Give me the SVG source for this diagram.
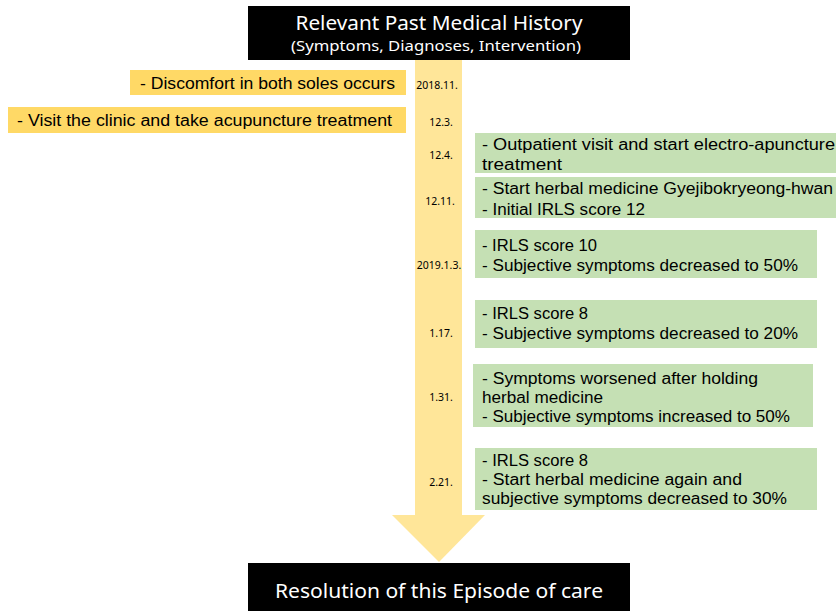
<svg xmlns="http://www.w3.org/2000/svg" width="836" height="611" viewBox="0 0 836 611">
<style>
.hdr{fill:#000}
.hdrt{fill:#fff;font-family:"Noto Sans","Liberation Sans",sans-serif;text-anchor:middle}
.yb{fill:#FFD966}
.gb{fill:#C5E0B4}
.t{font-family:"Liberation Sans","Noto Sans",sans-serif;font-size:16px;fill:#000}
.d{font-family:"Noto Sans","Liberation Sans",sans-serif;font-size:10.5px;fill:#000;text-anchor:middle}
</style>
<rect width="836" height="611" fill="#fff"/>
<g id="connectors">
  <rect x="415" y="60" width="47" height="456" fill="#FFE699"/>
  <polygon points="392,515 485,515 439,562" fill="#FFE699"/>
</g>
<g id="top">
  <rect class="hdr" x="248" y="6" width="382" height="54"/>
  <text class="hdrt" x="439" y="30" font-size="20" textLength="287" lengthAdjust="spacingAndGlyphs">Relevant Past Medical History</text>
  <text class="hdrt" x="436" y="51" font-size="15" textLength="290" lengthAdjust="spacingAndGlyphs">(Symptoms, Diagnoses, Intervention)</text>
</g>
<g id="bottom">
  <rect class="hdr" x="248" y="563" width="382" height="48"/>
  <text class="hdrt" x="439" y="598" font-size="20" textLength="328" lengthAdjust="spacingAndGlyphs">Resolution of this Episode of care</text>
</g>
<g id="dates">
  <text class="d" x="437" y="89">2018.11.</text>
  <text class="d" x="441" y="126">12.3.</text>
  <text class="d" x="441" y="159">12.4.</text>
  <text class="d" x="440" y="205">12.11.</text>
  <text class="d" x="439" y="269">2019.1.3.</text>
  <text class="d" x="441" y="337">1.17.</text>
  <text class="d" x="441" y="401">1.31.</text>
  <text class="d" x="441" y="486">2.21.</text>
</g>
<g id="e1">
  <rect class="yb" x="130" y="70" width="276" height="25"/>
  <text class="t" x="140" y="89" textLength="255" lengthAdjust="spacingAndGlyphs">- Discomfort in both soles occurs</text>
</g>
<g id="e2">
  <rect class="yb" x="8" y="107" width="398" height="26"/>
  <text class="t" x="17" y="126" textLength="375" lengthAdjust="spacingAndGlyphs">- Visit the clinic and take acupuncture treatment</text>
</g>
<g id="e3">
  <rect class="gb" x="475" y="133" width="361" height="40"/>
  <text class="t" x="482" y="150" textLength="353" lengthAdjust="spacingAndGlyphs">- Outpatient visit and start electro-apuncture</text>
  <text class="t" x="482" y="170" textLength="80" lengthAdjust="spacingAndGlyphs">treatment</text>
</g>
<g id="e4">
  <rect class="gb" x="475" y="177" width="361" height="41"/>
  <text class="t" x="482" y="194" textLength="351" lengthAdjust="spacingAndGlyphs">- Start herbal medicine Gyejibokryeong-hwan</text>
  <text class="t" x="482" y="215" textLength="163" lengthAdjust="spacingAndGlyphs">- Initial IRLS score 12</text>
</g>
<g id="e5">
  <rect class="gb" x="475" y="230" width="342" height="48"/>
  <text class="t" x="482" y="251" textLength="115" lengthAdjust="spacingAndGlyphs">- IRLS score 10</text>
  <text class="t" x="482" y="271" textLength="316" lengthAdjust="spacingAndGlyphs">- Subjective symptoms decreased to 50%</text>
</g>
<g id="e6">
  <rect class="gb" x="475" y="300" width="342" height="48"/>
  <text class="t" x="482" y="319" textLength="106" lengthAdjust="spacingAndGlyphs">- IRLS score 8</text>
  <text class="t" x="482" y="339" textLength="316" lengthAdjust="spacingAndGlyphs">- Subjective symptoms decreased to 20%</text>
</g>
<g id="e7">
  <rect class="gb" x="473" y="364" width="340" height="63"/>
  <text class="t" x="482" y="384" textLength="276" lengthAdjust="spacingAndGlyphs">- Symptoms worsened after holding</text>
  <text class="t" x="482" y="403" textLength="121" lengthAdjust="spacingAndGlyphs">herbal medicine</text>
  <text class="t" x="482" y="422" textLength="308" lengthAdjust="spacingAndGlyphs">- Subjective symptoms increased to 50%</text>
</g>
<g id="e8">
  <rect class="gb" x="475" y="448" width="342" height="62"/>
  <text class="t" x="482" y="466" textLength="106" lengthAdjust="spacingAndGlyphs">- IRLS score 8</text>
  <text class="t" x="482" y="485" textLength="260" lengthAdjust="spacingAndGlyphs">- Start herbal medicine again and</text>
  <text class="t" x="482" y="504" textLength="305" lengthAdjust="spacingAndGlyphs">subjective symptoms decreased to 30%</text>
</g>
</svg>
